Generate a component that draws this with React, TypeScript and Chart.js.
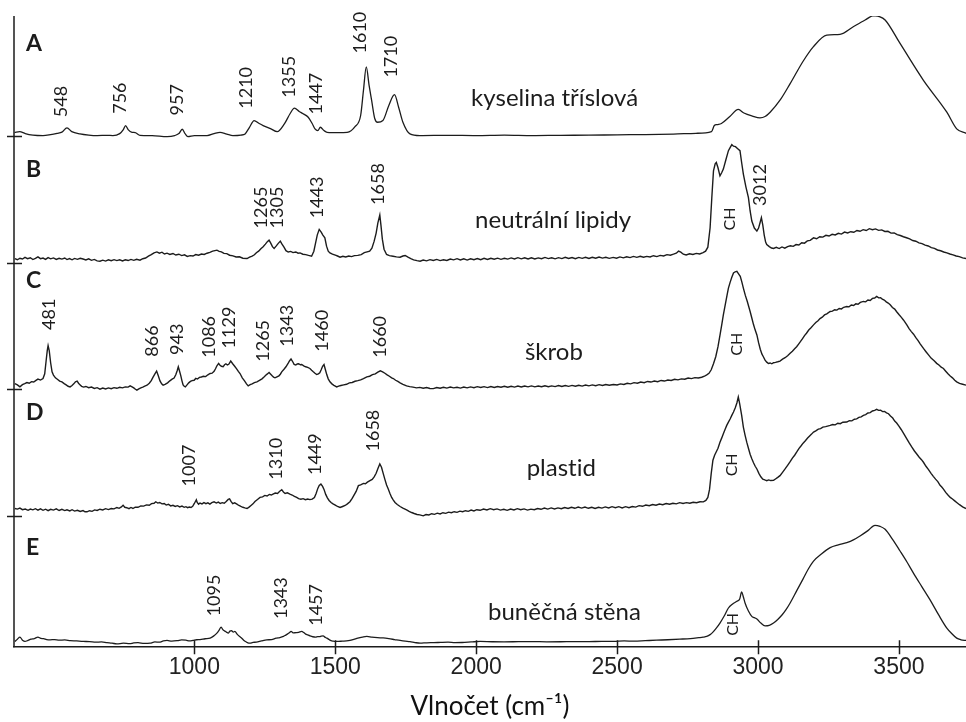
import { useEffect, useRef } from 'react';
import { Chart, registerables } from 'chart.js';

Chart.register(...registerables);

type Pt = [number, number];
type PeakLabel = [string, number, number];

const INK = '#1c1c1c';

// Wavenumber window (cm⁻¹) and the stacked intensity range (a.u.)
const X_MIN = 360;
const X_MAX = 3738;
const Y_MAX = 628;
const X_TICKS = [1000, 1500, 2000, 2500, 3000, 3500];

// Panels, top to bottom
const LETTERS = ['A', 'B', 'C', 'D', 'E'];
const NAMES = ['kyselina tříslová', 'neutrální lipidy', 'škrob', 'plastid', 'buněčná stěna'];
const OFFSETS = [509, 382, 257, 131, 0];
const LETTER_H = [84, 86, 100, 95, 92];
const NAME_X = [1982, 1996, 2173, 2179, 2042];
const NAME_H = [29, 35, 28.7, 39, 27.3];
// Raw (noisy) single-cell spectra are drawn with straight segments, the cleaner ones smoothed
const SMOOTHED = [true, false, false, false, true];

// Spectra: [wavenumber cm⁻¹, intensity above the panel baseline]
const tannicAcid: Pt[] = [
  [362, 3], [380, 4], [400, 2], [427, 0.5], [463, 0], [490, 1], [513, 2.3], [530, 3.5], [548, 7.7], [565, 4],
  [594, 1.7], [625, 0.5], [655, 0], [690, 0.3], [711, 0], [735, 2], [748, 6], [756, 10], [765, 6], [779, 3.3],
  [790, 3], [807, 0.3], [850, 0], [903, -1], [930, 0], [945, 2], [957, 6.3], [967, 2], [977, -1], [1000, 0],
  [1045, 0], [1070, 2], [1091, 3.3], [1115, 1.5], [1137, 0], [1165, 0.5], [1180, 1.7], [1195, 8], [1212, 15],
  [1230, 12], [1244, 10], [1270, 7], [1294, 4], [1320, 12], [1340, 22], [1355, 27.3], [1372, 24], [1386, 21.7],
  [1404, 18.3], [1418, 12], [1428, 6.7], [1438, 5], [1447, 8.3], [1460, 5], [1471, 3.3], [1510, 3], [1542, 3.3],
  [1570, 9], [1590, 20], [1600, 45], [1610, 68.3], [1620, 50], [1629, 35], [1640, 17], [1650, 13.3], [1669, 15],
  [1690, 30], [1710, 40.7], [1725, 28], [1740, 13.3], [1765, 1.7], [1800, 0], [1900, 0.3], [2000, 0], [2100, 0.5],
  [2200, 0], [2300, 0.3], [2400, 0.4], [2500, 0.8], [2600, 1], [2700, 1.5], [2780, 2.3], [2835, 4], [2845, 10],
  [2855, 11], [2870, 12], [2900, 19], [2930, 26], [2950, 22.5], [2980, 19.5], [3007, 17.7], [3025, 19], [3043, 23.3],
  [3080, 36], [3114, 51.7], [3160, 74], [3196, 88.3], [3244, 100], [3291, 100.7], [3338, 108.3], [3380, 115],
  [3409, 119.3], [3430, 118.5], [3451, 115], [3504, 91.7], [3587, 55], [3670, 23.3], [3705, 6.7], [3738, 2.3],
];

const neutralLipids: Pt[] = [
  [363, 4.7], [372, 3.5], [381, 5], [390, 4.2], [399, 5.8], [408, 4.5], [418, 5.5], [427, 3.7], [436, 4.8], [445, 6.3],
  [454, 4.6], [463, 5.2], [472, 3.9], [481, 5.6], [490, 4.4], [500, 5.3], [510, 3.8], [520, 4.9], [530, 4.1], [540, 5.2],
  [548, 3.7], [557, 4.6], [566, 3.4], [575, 4.8], [585, 3.9], [595, 5], [605, 4.2], [615, 3.3], [625, 4.4], [635, 2.9],
  [645, 3.8], [655, 2.4], [665, 2], [675, 3.1], [685, 2.2], [695, 3.4], [705, 2.5], [715, 3.6], [725, 2.6], [735, 3.4],
  [745, 2.3], [755, 3.5], [765, 2.7], [775, 3.8], [785, 2.9], [795, 4], [807, 3], [817, 4.5], [827, 5.2], [837, 7],
  [847, 8.6], [857, 10.4], [867, 11.3], [876, 10], [885, 11], [894, 9.2], [903, 10], [913, 8.8], [924, 9.7], [934, 8.2],
  [945, 9], [955, 7.6], [965, 8.4], [975, 6.8], [985, 7.6], [995, 7.2], [1005, 8.6], [1015, 8], [1025, 9.2], [1035, 8.7],
  [1045, 10], [1055, 10.8], [1065, 12], [1073, 12.6], [1080, 13], [1088, 11.8], [1096, 11.4], [1105, 9.8], [1115, 9.6],
  [1125, 8], [1137, 7.4], [1148, 6.2], [1160, 6.4], [1172, 5], [1187, 4.7], [1196, 6], [1205, 7.2], [1213, 8.4],
  [1220, 10.5], [1228, 12], [1236, 14.5], [1244, 16.5], [1252, 19], [1259, 21.5], [1265, 23], [1271, 20], [1277, 16.5],
  [1283, 14.7], [1290, 17], [1297, 19.5], [1305, 22], [1311, 19], [1318, 16], [1325, 12.5], [1333, 11.2], [1342, 11.8],
  [1350, 10.6], [1360, 11.2], [1368, 10], [1375, 10.3], [1385, 9], [1395, 8.6], [1405, 7.8], [1416, 7], [1424, 12],
  [1430, 20], [1436, 28], [1443, 33.7], [1450, 31], [1456, 28], [1463, 25.3], [1469, 17], [1475, 12], [1481, 10.3],
  [1490, 9], [1500, 8], [1508, 7.2], [1517, 6], [1527, 7], [1537, 6.2], [1548, 7.2], [1558, 6.6], [1568, 7.6],
  [1580, 7.8], [1592, 8.6], [1603, 10.5], [1613, 11.3], [1622, 12], [1630, 15], [1638, 22], [1645, 30], [1651, 40],
  [1658, 48], [1662, 38], [1667, 24], [1673, 14], [1682, 8.7], [1692, 7.6], [1705, 7], [1717, 6.3], [1730, 6],
  [1740, 7.2], [1748, 7.7], [1758, 6], [1768, 4.6], [1778, 3.4], [1790, 2.6], [1801, 2], [1812, 3.2], [1824, 2.4],
  [1836, 3.6], [1848, 2.7], [1860, 3.8], [1872, 2.6], [1884, 3.4], [1896, 2.8], [1908, 4.2], [1920, 3.4], [1932, 4.6],
  [1944, 3.3], [1956, 4.4], [1968, 3.2], [1980, 4.5], [1992, 3.5], [2004, 4.7], [2016, 3.6], [2028, 4.9], [2040, 3.8],
  [2052, 5], [2064, 4], [2076, 5.1], [2088, 3.9], [2100, 5], [2112, 4.1], [2124, 5.3], [2136, 4.3], [2148, 5.6],
  [2160, 4.4], [2172, 5.5], [2184, 4.3], [2196, 5.4], [2208, 4.2], [2220, 5.3], [2232, 4.5], [2244, 5.8], [2256, 4.6],
  [2268, 5.5], [2280, 4.4], [2292, 5.6], [2304, 4.6], [2316, 5.9], [2328, 4.8], [2340, 5.7], [2352, 4.5], [2364, 5.8],
  [2376, 4.9], [2388, 6], [2400, 4.8], [2412, 5.9], [2424, 5], [2436, 6.2], [2448, 5.1], [2460, 6], [2472, 4.9],
  [2486, 5.8], [2498, 5], [2510, 6.3], [2522, 5.4], [2534, 6.5], [2546, 5.6], [2558, 6.8], [2570, 5.9], [2582, 7],
  [2594, 6], [2605, 6.8], [2617, 6.2], [2629, 7.5], [2641, 6.6], [2653, 7.8], [2665, 7.2], [2677, 8.6], [2689, 8],
  [2700, 9], [2710, 10], [2718, 12], [2726, 11], [2735, 9], [2745, 8.2], [2757, 9.4], [2769, 8.7], [2781, 9.8],
  [2793, 9.2], [2805, 10.6], [2814, 12], [2822, 16], [2830, 35.3], [2836, 65], [2842, 92], [2848, 99], [2852, 100.3],
  [2858, 95], [2865, 87], [2871, 90], [2877, 93.7], [2886, 103], [2895, 112], [2901, 115], [2907, 118], [2913, 116.5],
  [2920, 116], [2928, 114], [2936, 112], [2942, 100], [2948, 88.7], [2957, 76], [2966, 65.3], [2972, 52], [2978, 42],
  [2987, 35], [2996, 32], [3002, 35], [3007, 40], [3012, 45.3], [3017, 38], [3022, 28], [3027, 21], [3031, 18.7],
  [3040, 16.6], [3048, 15.2], [3055, 14.7], [3065, 15.8], [3075, 14.6], [3085, 16.2], [3095, 15], [3105, 16.6],
  [3115, 17.4], [3125, 16.8], [3135, 18.6], [3145, 18.2], [3155, 20.4], [3165, 20], [3175, 22.2], [3185, 22.8],
  [3197, 25.3], [3208, 24.4], [3219, 26.4], [3230, 26], [3241, 27.8], [3252, 27.1], [3263, 28.8], [3274, 28.2],
  [3285, 29.8], [3296, 29], [3307, 31], [3318, 30.1], [3329, 31.4], [3340, 30.8], [3351, 32.6], [3362, 31.8],
  [3373, 33.4], [3384, 32.6], [3395, 34.4], [3406, 33.4], [3417, 34.2], [3428, 32.7], [3439, 33.2], [3450, 31.6],
  [3461, 31.8], [3472, 30], [3483, 30.2], [3494, 28.4], [3505, 27.6], [3516, 26.4], [3527, 25.4], [3538, 24.2],
  [3549, 22.6], [3560, 21.9], [3571, 20.2], [3582, 19.6], [3593, 18], [3604, 17.2], [3615, 15.6], [3626, 14.8],
  [3637, 13.2], [3648, 12.4], [3659, 11.2], [3670, 10.3], [3681, 9.2], [3692, 8.4], [3703, 7.2], [3714, 6.6],
  [3726, 5.4], [3738, 4.7],
];

const starch: Pt[] = [
  [363, 5.3], [372, 4], [381, 2], [390, 4.2], [398, 5.2], [406, 6.3], [414, 5.6], [422, 7.2], [430, 6.8], [438, 8.4],
  [445, 9.7], [454, 8.8], [463, 10.3], [469, 15], [474, 28], [478, 38], [481, 43], [485, 38], [490, 26], [495, 17],
  [500, 13.7], [507, 11], [515, 9.4], [522, 7.8], [530, 7], [538, 5.2], [545, 4], [552, 2.6], [559, 2], [566, 3.4],
  [572, 5], [578, 7], [584, 7.7], [589, 5.6], [594, 4], [600, 2.6], [607, 1.8], [615, 2.4], [625, 1.2], [635, 1.8],
  [645, 0.5], [655, 1.2], [665, -0.3], [675, 0.8], [685, 0], [695, 1], [705, 0.2], [715, 1.2], [725, 0.6], [735, 1.6],
  [745, 1], [755, 2], [765, 1.8], [772, 3], [779, 2], [785, 1], [791, -0.4], [796, -1.3], [803, 0], [810, 1],
  [817, 1.8], [824, 2.8], [832, 3.7], [840, 5.6], [847, 8.2], [853, 11.5], [860, 15], [866, 17.7], [872, 13], [878, 8],
  [884, 5], [889, 3.7], [896, 4.6], [905, 6], [913, 8], [921, 9.7], [928, 10.8], [934, 14], [939, 18], [943, 22],
  [947, 18], [952, 13], [956, 8], [960, 4], [964, 2.6], [968, 2], [974, 4], [980, 6], [986, 7.4], [992, 8.2],
  [999, 8.6], [1005, 10.4], [1011, 9.8], [1018, 11.4], [1025, 11.8], [1032, 12.5], [1040, 12.2], [1048, 14],
  [1056, 15.3], [1063, 15.6], [1070, 17.5], [1075, 20], [1080, 23], [1086, 25.3], [1091, 23.5], [1096, 22.5],
  [1102, 22], [1107, 24], [1112, 25], [1117, 23.8], [1122, 24.5], [1129, 27.7], [1136, 25], [1143, 22.5], [1150, 20],
  [1156, 17.4], [1162, 15.3], [1170, 11], [1178, 8], [1185, 5], [1191, 3], [1198, 4.2], [1205, 5], [1213, 6.2],
  [1222, 7], [1231, 8.4], [1240, 10], [1248, 12], [1256, 14.2], [1262, 15.6], [1265, 16.3], [1270, 14.8], [1276, 13],
  [1281, 11.6], [1286, 11], [1293, 12], [1300, 13], [1305, 14.6], [1310, 17], [1318, 19.5], [1325, 22], [1333, 25.6],
  [1338, 28], [1343, 29.7], [1349, 27], [1354, 24.4], [1360, 23.7], [1365, 24.8], [1370, 25], [1376, 24], [1381, 24.3],
  [1388, 23], [1395, 22], [1402, 21.4], [1410, 20.3], [1416, 18.6], [1422, 17], [1428, 15.5], [1434, 14.3], [1440, 15],
  [1445, 16], [1450, 19], [1455, 22.5], [1460, 24.3], [1465, 19], [1470, 14], [1475, 10], [1481, 7], [1488, 5],
  [1495, 3.5], [1500, 2.8], [1505, 2], [1512, 2.8], [1520, 3.4], [1530, 4], [1540, 4.6], [1550, 6], [1560, 6.4],
  [1570, 7.6], [1580, 8.2], [1590, 9], [1600, 10.2], [1612, 12], [1622, 12.6], [1632, 14.2], [1642, 15], [1651, 16.6],
  [1660, 18], [1668, 17], [1676, 15.6], [1684, 14], [1692, 12.6], [1700, 11], [1706, 10.3], [1714, 8.6], [1722, 7.4],
  [1730, 6], [1740, 4.6], [1753, 3], [1764, 2.2], [1776, 1.8], [1788, 1], [1800, 1.5], [1812, 0.6], [1824, 1.3],
  [1836, 0.4], [1848, 0.3], [1860, 1.4], [1872, 0.6], [1884, 1.6], [1896, 0.8], [1908, 1.8], [1920, 1], [1932, 1.6],
  [1944, 0.8], [1956, 1.8], [1968, 1], [1980, 2], [1992, 1.2], [2004, 2.2], [2016, 1.4], [2028, 2.2], [2040, 1.3],
  [2052, 2.3], [2064, 1.4], [2076, 2.4], [2088, 1.6], [2100, 2.6], [2112, 1.7], [2124, 2.6], [2136, 1.8], [2148, 2.8],
  [2160, 1.9], [2172, 2.8], [2184, 2], [2196, 3], [2208, 2], [2220, 2.9], [2232, 2.1], [2244, 3.1], [2256, 2.2],
  [2268, 3], [2280, 2.3], [2292, 3.3], [2304, 2.4], [2316, 3.4], [2328, 2.5], [2340, 3.5], [2352, 2.6], [2364, 3.6],
  [2376, 2.8], [2388, 3.8], [2400, 3], [2412, 4], [2424, 3.2], [2436, 4.2], [2448, 3.4], [2460, 4.4], [2472, 3.6],
  [2487, 4.4], [2500, 3.9], [2512, 5], [2524, 4.4], [2536, 5.6], [2548, 5], [2560, 6.2], [2572, 5.6], [2584, 6.8],
  [2596, 6.2], [2608, 7.4], [2620, 6.8], [2632, 7.8], [2644, 7.2], [2656, 8.4], [2668, 7.8], [2680, 8.8], [2692, 8.4],
  [2704, 9.6], [2716, 9], [2728, 10], [2740, 9.6], [2752, 10.8], [2764, 10.2], [2776, 11.2], [2788, 10.8], [2800, 11.6],
  [2810, 12.6], [2818, 14], [2826, 15.5], [2834, 19], [2842, 25], [2850, 32], [2858, 42], [2866, 55], [2872, 65],
  [2877, 73.7], [2884, 84], [2890, 93], [2895, 100.3], [2901, 106], [2907, 111], [2913, 115.3], [2919, 116.5],
  [2925, 117], [2931, 114.5], [2937, 112], [2943, 106], [2948, 100.3], [2955, 93], [2962, 87], [2967, 82], [2972, 77],
  [2978, 70.5], [2984, 64], [2990, 58.5], [2996, 53.7], [3002, 46], [3008, 39.5], [3014, 34.5], [3019, 32],
  [3025, 28.6], [3031, 26.6], [3037, 25.3], [3043, 25.8], [3049, 25], [3055, 26], [3062, 26.4], [3070, 27],
  [3078, 27.7], [3087, 29.6], [3096, 31], [3105, 33], [3114, 35.4], [3122, 37.5], [3130, 40], [3137, 42], [3144, 44.6],
  [3151, 47.2], [3158, 50], [3165, 53], [3172, 55.4], [3180, 58.6], [3188, 60.8], [3197, 63.7], [3205, 66],
  [3213, 67.8], [3220, 70], [3228, 71.4], [3236, 73.6], [3244, 74.6], [3256, 77], [3264, 77.4], [3272, 78.8],
  [3280, 78.4], [3288, 80], [3296, 79.6], [3304, 81.2], [3315, 82], [3323, 81.6], [3331, 83.4], [3339, 83],
  [3347, 84.6], [3355, 84.2], [3363, 86], [3374, 87], [3382, 86.6], [3390, 88.4], [3398, 88], [3406, 90], [3414, 90.4],
  [3421, 92], [3428, 90.6], [3435, 90.8], [3441, 89.2], [3448, 88.4], [3455, 86.6], [3462, 85.4], [3469, 83.7],
  [3477, 81], [3485, 79.4], [3492, 76.8], [3500, 74], [3508, 71.4], [3516, 68.6], [3528, 63.7], [3536, 60], [3544, 57],
  [3552, 54.4], [3560, 51], [3568, 48], [3576, 44.6], [3587, 40.3], [3596, 37], [3605, 33.8], [3614, 30.6], [3625, 28],
  [3634, 25.4], [3643, 23.6], [3650, 21.6], [3658, 20.3], [3666, 17.6], [3674, 15], [3682, 12.8], [3690, 11],
  [3698, 8.6], [3705, 7], [3715, 5.4], [3726, 4.6], [3738, 3.7],
];

const plastid: Pt[] = [
  [363, 7], [372, 6.4], [381, 7.4], [390, 5.8], [400, 6.5], [410, 5.2], [418, 6.4], [427, 5.7], [436, 6.8], [445, 5.4],
  [454, 6.6], [463, 5.2], [472, 6.3], [481, 4.8], [490, 6.2], [500, 5.4], [510, 6.6], [520, 5], [530, 6.2], [540, 4.9],
  [548, 5.7], [558, 4.6], [566, 5.8], [575, 4.4], [585, 5.2], [595, 4], [605, 4.9], [612, 3.7], [619, 3.7], [628, 4.8],
  [637, 4.2], [646, 5.6], [655, 5], [665, 6.3], [675, 5.6], [685, 6.8], [695, 5.9], [705, 7], [715, 6.6], [725, 8],
  [733, 7.2], [741, 8.6], [747, 10.3], [753, 8.2], [760, 7.8], [768, 6.8], [775, 8], [782, 7], [790, 8.4], [800, 8.2],
  [810, 9.6], [820, 9.4], [830, 10.6], [840, 10.2], [848, 11.8], [857, 12.2], [863, 13.7], [870, 12.4], [877, 13],
  [885, 11.6], [893, 12], [900, 10.4], [908, 11.2], [916, 9.6], [924, 10.2], [932, 9], [940, 9.8], [948, 8.6],
  [956, 9.4], [964, 8.2], [970, 8.8], [976, 7.8], [982, 8.4], [988, 8], [994, 9.2], [1000, 12], [1007, 15.7],
  [1010, 13], [1015, 11.3], [1020, 12.4], [1027, 11.6], [1034, 12.8], [1041, 11.8], [1048, 12.6], [1055, 11.4],
  [1062, 12.8], [1070, 13.6], [1078, 12.4], [1085, 13.4], [1092, 12], [1099, 12.8], [1106, 12.2], [1113, 14],
  [1120, 16], [1125, 16.5], [1130, 14], [1136, 11.8], [1143, 12.6], [1151, 11.3], [1158, 10], [1165, 9], [1172, 8.2],
  [1179, 7.6], [1187, 7], [1194, 8.4], [1201, 10], [1208, 11.6], [1215, 14], [1224, 16], [1233, 18], [1242, 18.6],
  [1250, 20], [1258, 19.4], [1266, 21], [1273, 20.4], [1279, 21.3], [1287, 22.4], [1295, 22], [1302, 24], [1310, 25.7],
  [1316, 23.4], [1322, 22], [1330, 22.6], [1339, 21.3], [1347, 20.4], [1355, 19], [1363, 18], [1370, 16.8],
  [1378, 16.2], [1386, 16.8], [1394, 15.8], [1402, 16.4], [1410, 15.8], [1418, 16.3], [1426, 18], [1432, 22],
  [1438, 27], [1443, 30], [1449, 31.3], [1455, 29], [1460, 26], [1466, 21], [1472, 17.6], [1478, 15], [1485, 13],
  [1492, 11.6], [1500, 10.4], [1508, 9], [1517, 8], [1526, 9], [1535, 10], [1543, 11.6], [1552, 13.7], [1560, 17],
  [1566, 20], [1574, 24], [1582, 29.7], [1590, 30.4], [1600, 32], [1607, 31.6], [1614, 33.2], [1623, 34.7], [1631, 36],
  [1638, 38.4], [1645, 42], [1651, 46.5], [1658, 51.3], [1664, 48], [1670, 42], [1676, 36], [1682, 30.4], [1688, 26.3],
  [1694, 22], [1700, 18], [1706, 15.4], [1712, 13], [1720, 11], [1730, 9], [1740, 7.4], [1753, 5.7], [1762, 4.2],
  [1771, 3], [1780, 2], [1790, 1], [1800, 0.6], [1812, -0.3], [1822, 1], [1832, 0.6], [1842, 1.8], [1852, 1.2],
  [1862, 2.4], [1872, 1.6], [1882, 2.8], [1892, 2.2], [1902, 3.4], [1912, 2.8], [1922, 3.8], [1932, 3.2], [1942, 4.4],
  [1952, 3.8], [1962, 4.8], [1972, 4.2], [1982, 5.4], [1992, 4.6], [2002, 5.8], [2014, 5.2], [2026, 6.4], [2038, 5.6],
  [2050, 6.8], [2062, 5.8], [2074, 6.6], [2086, 5.4], [2098, 6.2], [2110, 5.2], [2122, 6.4], [2134, 5.6], [2146, 6.8],
  [2158, 5.8], [2170, 6.6], [2182, 5.4], [2194, 6.4], [2206, 5.8], [2218, 7], [2230, 6.2], [2242, 7.4], [2254, 6.4],
  [2266, 7.6], [2278, 6.6], [2290, 7.6], [2302, 6.8], [2314, 8], [2326, 7], [2338, 8.2], [2350, 7.2], [2362, 8.4],
  [2374, 7.4], [2386, 8.4], [2398, 7.2], [2410, 8.2], [2422, 7], [2434, 8.2], [2446, 7.4], [2458, 8.6], [2470, 7.6],
  [2482, 8.8], [2494, 7.8], [2506, 8.8], [2518, 7.6], [2530, 8.8], [2542, 7.8], [2554, 9], [2566, 8.4], [2578, 9.8],
  [2590, 9.2], [2602, 10.4], [2614, 9.8], [2626, 11], [2638, 10.2], [2650, 11.4], [2662, 10.8], [2674, 12],
  [2686, 11.2], [2698, 12.2], [2710, 11.6], [2722, 12.8], [2734, 12], [2746, 12.8], [2758, 12.2], [2770, 13.2],
  [2782, 12.8], [2794, 13.7], [2806, 13.6], [2815, 15], [2822, 18], [2828, 26], [2834, 42], [2840, 55], [2846, 60],
  [2852, 63.5], [2858, 67], [2865, 73], [2871, 77], [2877, 81.4], [2883, 85.5], [2889, 89.7], [2895, 93], [2901, 96],
  [2907, 99.6], [2913, 103], [2919, 107], [2925, 112], [2930, 118], [2935, 111], [2942, 99.7], [2948, 88], [2954, 80],
  [2960, 73], [2966, 67], [2972, 61], [2978, 56.6], [2984, 52.5], [2990, 49], [2996, 46.3], [3003, 42], [3010, 38.6],
  [3017, 36.2], [3024, 35.4], [3031, 34.7], [3038, 35.4], [3045, 34.8], [3055, 35], [3062, 36.4], [3070, 38],
  [3078, 39.7], [3087, 43], [3096, 46.4], [3105, 50], [3114, 53.6], [3122, 57.2], [3130, 60], [3137, 63], [3145, 66.6],
  [3153, 69.4], [3160, 72], [3168, 74.4], [3176, 77.2], [3184, 79.4], [3190, 81], [3197, 83], [3205, 84.2], [3214, 86],
  [3222, 86.4], [3230, 88], [3240, 88.4], [3250, 89.2], [3256, 89.7], [3265, 90.6], [3274, 90.2], [3283, 91.8],
  [3292, 91.4], [3301, 92.8], [3315, 93], [3324, 94.4], [3333, 94.2], [3342, 95.8], [3350, 96.2], [3358, 97.6],
  [3366, 98.2], [3374, 99.7], [3382, 100.4], [3390, 102], [3398, 102.4], [3406, 104], [3414, 104.6], [3421, 105.7],
  [3428, 104.6], [3435, 104.8], [3442, 103.4], [3449, 103.6], [3456, 102.2], [3463, 101.3], [3470, 99], [3478, 97],
  [3485, 94], [3492, 92], [3500, 89], [3508, 85.6], [3516, 82], [3528, 76.3], [3537, 72], [3546, 68], [3555, 64.2],
  [3564, 61], [3572, 58], [3580, 55.6], [3587, 53], [3596, 49], [3605, 45.6], [3614, 42], [3622, 39], [3630, 36.2],
  [3638, 33.8], [3646, 30], [3652, 28.4], [3658, 26.3], [3666, 23], [3674, 20.4], [3682, 18], [3690, 16.4],
  [3698, 14.6], [3705, 13], [3715, 10.8], [3726, 8.6], [3738, 7],
];

const cellWall: Pt[] = [
  [363, 5.7], [372, 8], [381, 10], [390, 7], [399, 5.7], [410, 6.8], [420, 8], [432, 8.6], [445, 10], [455, 8.8],
  [465, 8.5], [476, 7.6], [488, 7.3], [504, 7.6], [520, 7], [540, 7.2], [560, 6.5], [582, 6.2], [605, 5.7], [628, 5.6],
  [650, 5], [670, 5.2], [690, 4.5], [708, 4], [725, 3.3], [748, 4], [770, 3.5], [785, 4.2], [800, 4.5], [822, 3.8],
  [843, 4], [860, 5.2], [875, 5], [890, 6.2], [903, 6.7], [920, 6], [940, 6.5], [955, 7.2], [970, 7], [983, 6.2],
  [995, 6.7], [1008, 7.4], [1020, 7.5], [1038, 8.4], [1056, 9], [1068, 11], [1080, 14], [1088, 17], [1095, 20],
  [1101, 17.5], [1108, 16], [1114, 15], [1120, 14], [1126, 16], [1132, 16.5], [1138, 15], [1144, 15.7], [1150, 13.6],
  [1155, 12], [1162, 10.4], [1168, 9], [1174, 7.2], [1180, 6], [1188, 4.6], [1197, 4], [1208, 4.8], [1220, 5],
  [1238, 6.2], [1257, 7.3], [1274, 7.6], [1290, 9], [1303, 9.6], [1316, 10.7], [1324, 12], [1330, 13], [1337, 14.4],
  [1343, 15.7], [1352, 14.2], [1360, 14.5], [1370, 14.8], [1381, 15.7], [1388, 14.6], [1395, 13], [1402, 12.2],
  [1410, 11.3], [1420, 10.4], [1430, 10], [1438, 10.6], [1445, 10.5], [1450, 11], [1457, 11.3], [1463, 10], [1470, 9],
  [1478, 7.6], [1485, 6.5], [1492, 6], [1499, 5.7], [1512, 5.8], [1525, 6], [1540, 6.2], [1552, 6.7], [1566, 7.8],
  [1580, 9], [1596, 10], [1612, 10.7], [1630, 10], [1650, 9.5], [1670, 9.2], [1690, 8.5], [1710, 7.6], [1730, 6.7],
  [1748, 6], [1765, 5.5], [1783, 4.6], [1801, 4], [1825, 4.4], [1850, 4.5], [1875, 4.8], [1900, 5], [1925, 4.6],
  [1950, 4.7], [1982, 5.2], [2014, 5.7], [2057, 5.4], [2100, 5.3], [2150, 5.5], [2200, 5.6], [2250, 5.3], [2300, 5.4],
  [2350, 5.6], [2400, 5.5], [2445, 5.8], [2487, 5.7], [2525, 6.2], [2560, 6], [2600, 6.5], [2640, 7], [2680, 7.4],
  [2723, 8], [2760, 8.6], [2790, 9.5], [2805, 10], [2818, 10.7], [2830, 12.5], [2840, 15], [2852, 19], [2865, 24],
  [2880, 31], [2895, 39], [2910, 43], [2925, 45.7], [2935, 48], [2942, 55], [2948, 50], [2954, 44], [2966, 36],
  [2978, 30.7], [2987, 29.4], [2996, 28], [3010, 24], [3025, 21.3], [3040, 21.8], [3055, 24], [3070, 27.6], [3085, 32],
  [3100, 37.6], [3114, 44], [3137, 56], [3160, 68], [3178, 77.6], [3197, 85.7], [3226, 93], [3256, 99], [3285, 101.8],
  [3315, 104], [3340, 107], [3362, 110.7], [3390, 116], [3415, 121.3], [3433, 120.2], [3451, 117.3], [3478, 107],
  [3504, 95.7], [3528, 85], [3551, 74], [3580, 60.8], [3610, 47.3], [3640, 32.6], [3670, 19], [3688, 13.4], [3705, 9],
  [3720, 7.4], [3738, 6.7],
];

const SPECTRA = [tannicAcid, neutralLipids, starch, plastid, cellWall];

// Peak annotations: [text, wavenumber of the text centre, height of the text start above the baseline]
const tannicPeaks: PeakLabel[] = [
  ['548', 527, 18.3], ['756', 738, 21.7], ['957', 938, 20], ['1210', 1183, 26.7], ['1355', 1338, 37.7],
  ['1447', 1431, 21], ['1610', 1588, 81.7], ['1710', 1698, 57.7],
];
const lipidPeaks: PeakLabel[] = [
  ['1265', 1236, 34.7], ['1305', 1295, 34.7], ['1443', 1435, 44.7], ['1658', 1652, 58], ['CH', 2901, 32.7],
  ['3012', 3007, 57],
];
const starchPeaks: PeakLabel[] = [
  ['481', 485, 58.7], ['866', 850, 32], ['943', 938, 33.7], ['1086', 1054, 31], ['1129', 1125, 40.3],
  ['1265', 1244, 27], ['1343', 1331, 42], ['1460', 1455, 37], ['1660', 1660, 31], ['CH', 2925, 33],
];
const plastidPeaks: PeakLabel[] = [
  ['1007', 981, 29], ['1310', 1289, 35.7], ['1449', 1430, 40.3], ['1658', 1635, 63.7], ['CH', 2907, 39],
];
const wallPeaks: PeakLabel[] = [
  ['1095', 1070, 30.7], ['1343', 1307, 28], ['1457', 1434, 21.3], ['CH', 2910, 11.3],
];
const PEAKS = [tannicPeaks, lipidPeaks, starchPeaks, plastidPeaks, wallPeaks];

const decorations = {
  id: 'decorations',
  afterDraw(chart: any) {
    const { ctx, chartArea, scales } = chart;
    const xs = scales.x;
    const ys = scales.y;
    ctx.save();

    // Left axis with baseline marks for the stacked spectra
    ctx.strokeStyle = INK;
    ctx.lineWidth = 1.5;
    ctx.beginPath();
    ctx.moveTo(chartArea.left, chartArea.top);
    ctx.lineTo(chartArea.left, chartArea.bottom);
    OFFSETS.slice(0, 4).forEach((o) => {
      const py = Math.round(ys.getPixelForValue(o)) + 0.5;
      ctx.moveTo(chartArea.left - 7, py);
      ctx.lineTo(chartArea.left + 8, py);
    });
    // Tick marks crossing the wavenumber axis
    X_TICKS.forEach((v) => {
      const px = Math.round(xs.getPixelForValue(v)) + 0.5;
      ctx.moveTo(px, chartArea.bottom - 7);
      ctx.lineTo(px, chartArea.bottom + 7);
    });
    ctx.stroke();

    ctx.fillStyle = INK;
    ctx.textBaseline = 'alphabetic';
    ctx.textAlign = 'left';
    // keep plain letter shapes (no "ti" ligature)
    ctx.textRendering = 'optimizeSpeed';
    ctx.letterSpacing = '0.01px';

    LETTERS.forEach((letter, i) => {
      ctx.font = 'bold 23px Lato';
      ctx.fillText(letter, chartArea.left + 12, ys.getPixelForValue(OFFSETS[i] + LETTER_H[i]));
      ctx.font = '24px Lato';
      ctx.fillText(NAMES[i], xs.getPixelForValue(NAME_X[i]), ys.getPixelForValue(OFFSETS[i] + NAME_H[i]));
    });

    PEAKS.forEach((labels, i) => {
      labels.forEach(([text, wn, h]) => {
        ctx.save();
        ctx.translate(xs.getPixelForValue(wn), ys.getPixelForValue(OFFSETS[i] + h));
        ctx.rotate(-Math.PI / 2);
        ctx.font = text === 'CH' ? '16px Lato' : '18px Lato';
        ctx.textAlign = 'left';
        ctx.textBaseline = 'middle';
        ctx.fillText(text, 0, 0);
        ctx.restore();
      });
    });

    ctx.restore();
  },
};

export default function App() {
  const canvasRef = useRef<HTMLCanvasElement>(null);

  useEffect(() => {
    const canvas = canvasRef.current;
    if (!canvas) return;
    const chart = new Chart(canvas, {
      type: 'line',
      data: {
        datasets: SPECTRA.map((pts, i) => ({
          label: NAMES[i],
          data: pts.map(([wn, h]) => ({ x: wn, y: OFFSETS[i] + h })),
          borderColor: INK,
          borderWidth: SMOOTHED[i] ? 1.3 : 1.4,
          pointRadius: 0,
          fill: false,
          ...(SMOOTHED[i] ? { cubicInterpolationMode: 'monotone' as const } : { tension: 0 }),
        })),
      },
      options: {
        responsive: false,
        devicePixelRatio: 1,
        animation: false,
        events: [],
        layout: { padding: { left: 14, right: 0, top: 16, bottom: 0 } },
        plugins: { legend: { display: false }, tooltip: { enabled: false } },
        scales: {
          x: {
            type: 'linear',
            min: X_MIN,
            max: X_MAX,
            afterBuildTicks: (scale: any) => {
              scale.ticks = X_TICKS.map((value) => ({ value }));
            },
            grid: { display: false, drawTicks: false },
            border: { display: true, color: INK, width: 1.5 },
            ticks: {
              autoSkip: false,
              maxRotation: 0,
              padding: 7,
              color: '#222',
              font: { family: 'Liberation Sans', size: 23 },
              callback: (v: any) => String(v),
            },
            title: {
              display: true,
              text: 'Vlnočet (cm⁻¹)',
              color: '#111',
              font: { family: 'Lato', size: 26 },
              padding: { top: 2, bottom: 0 },
            },
          },
          y: { type: 'linear', min: 0, max: Y_MAX, display: false },
        },
      },
      plugins: [decorations],
    });
    return () => chart.destroy();
  }, []);

  return (
    <div style={{ position: 'fixed', left: 0, top: 0, width: 966, height: 722, background: '#fff' }}>
      <canvas ref={canvasRef} width={966} height={722} style={{ display: 'block', width: 966, height: 722 }} />
    </div>
  );
}
